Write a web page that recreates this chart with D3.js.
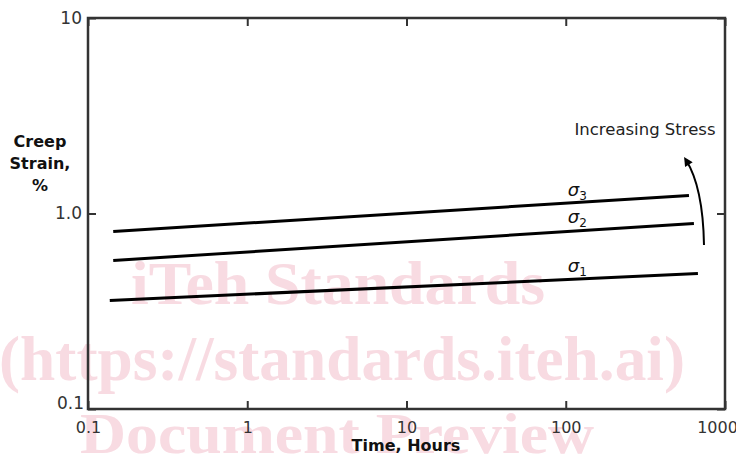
<!DOCTYPE html>
<html>
<head>
<meta charset="utf-8">
<script src="https://cdn.jsdelivr.net/npm/d3@7"></script>
<style>
  body { margin: 0; background: #fff; }
  svg { font-family: "DejaVu Sans", Verdana, sans-serif; }
</style>
</head>
<body>
<svg id="chart" width="736" height="458"></svg>
<script>
// creep curves (time in hours, strain in %)
var sigma1Time = [0.137, 676],
  sigma1Strain = [0.359, 0.493],
  sigma2Time = [0.144, 638],
  sigma2Strain = [0.575, 0.889],
  sigma3Time = [0.144, 594],
  sigma3Strain = [0.809, 1.236];
var seriesNames = ["1", "2", "3"];
var labelTime = [103, 103, 103];
var labelStrain = [0.50, 0.89, 1.236];
var xTicks = [0.1, 1, 10, 100, 1000],
  xTickLabels = ["0.1", "1", "10", "100", "1000"];
var yTicks = [0.1, 1, 10],
  yTickLabels = ["0.1", "1.0", "10"];

var svg = d3.select("#chart"),
  mLeft = 88, mRight = 725, mTop = 18, mBottom = 409;

var x = d3.scaleLog().domain([0.1, 1000]).range([mLeft, mRight]),
  y = d3.scaleLog().domain([0.1, 10]).range([mBottom, mTop]);

// watermark behind everything
var wm = svg.append("g")
  .attr("fill", "#f8dbe2")
  .attr("font-family", "'Liberation Serif', 'DejaVu Serif', serif")
  .attr("font-weight", "bold")
  .attr("text-anchor", "middle");
wm.append("text").attr("x", 338).attr("y", 304).attr("font-size", 62)
  .attr("textLength", 414).attr("lengthAdjust", "spacingAndGlyphs").text("iTeh Standards");
wm.append("text").attr("x", 342).attr("y", 380).attr("font-size", 64)
  .attr("textLength", 686).attr("lengthAdjust", "spacingAndGlyphs").text("(https://standards.iteh.ai)");
wm.append("text").attr("x", 337).attr("y", 453).attr("font-size", 58)
  .attr("textLength", 514).attr("lengthAdjust", "spacingAndGlyphs").text("Document Preview");

// axes: ticks inside the frame on all sides
var axisColor = "#333";
function styleAxis(g) {
  g.attr("font-family", null);
  g.select(".domain").remove();
  g.selectAll(".tick line").attr("stroke", axisColor).attr("stroke-width", 2);
  g.selectAll(".tick text").attr("fill", axisColor)
    .style("font-size", "16px");
}

svg.append("g")
  .attr("transform", "translate(0," + mBottom + ")")
  .call(d3.axisBottom(x).tickValues(xTicks)
    .tickFormat(function (d, i) { return xTickLabels[i]; })
    .tickSizeInner(-8).tickPadding(10))
  .call(styleAxis)
  .call(function (g) {
    g.selectAll(".tick text").attr("dy", "0.85em");
    g.selectAll(".tick").filter(function (d) { return d === 1000; })
      .select("text").attr("dx", -8);
  });

svg.append("g")
  .attr("transform", "translate(0," + mTop + ")")
  .call(d3.axisTop(x).tickValues(xTicks).tickFormat("").tickSizeInner(-8))
  .call(styleAxis);

svg.append("g")
  .attr("transform", "translate(" + mLeft + ",0)")
  .call(d3.axisLeft(y).tickValues(yTicks)
    .tickFormat(function (d, i) { return yTickLabels[i]; })
    .tickSizeInner(-8).tickPadding(6))
  .call(styleAxis)
  .call(function (g) {
    g.selectAll(".tick text").style("font-size", "17px");
    g.selectAll(".tick").filter(function (d) { return d === 0.1; })
      .select("text").attr("dy", "-0.05em").attr("x", -4);
  });

svg.append("g")
  .attr("transform", "translate(" + mRight + ",0)")
  .call(d3.axisRight(y).tickValues(yTicks).tickFormat("").tickSizeInner(-8))
  .call(styleAxis);

// frame
svg.append("rect")
  .attr("x", mLeft).attr("y", mTop)
  .attr("width", mRight - mLeft).attr("height", mBottom - mTop)
  .attr("fill", "none").attr("stroke", axisColor).attr("stroke-width", 2.5);

// creep lines
var series = [
  { t: sigma1Time, s: sigma1Strain },
  { t: sigma2Time, s: sigma2Strain },
  { t: sigma3Time, s: sigma3Strain }
];
var line = d3.line()
  .x(function (d) { return x(d[0]); })
  .y(function (d) { return y(d[1]); });

series.forEach(function (sr) {
  svg.append("path")
    .datum(d3.zip(sr.t, sr.s))
    .attr("d", line)
    .attr("fill", "none")
    .attr("stroke", "#000")
    .attr("stroke-width", 3);
});

// sigma labels
seriesNames.forEach(function (n, i) {
  var t = svg.append("text")
    .attr("x", x(labelTime[i])).attr("y", y(labelStrain[i]))
    .attr("text-anchor", "start")
    .style("font-size", "18px")
    .style("font-style", "italic")
    .attr("fill", "#111");
  t.append("tspan").text("\u03c3");
  t.append("tspan").attr("dy", 4).style("font-size", "12px")
    .style("font-style", "normal").text(n);
});

// arrow for increasing stress
var defs = svg.append("defs");
defs.append("marker")
  .attr("id", "arrowHead")
  .attr("viewBox", "0 0 10 10")
  .attr("refX", 6).attr("refY", 5)
  .attr("markerWidth", 5.5).attr("markerHeight", 4.5)
  .attr("markerUnits", "strokeWidth")
  .attr("orient", "auto")
  .append("path").attr("d", "M0,0 L10,5 L0,10 z").attr("fill", "#000");

svg.append("path")
  .attr("d", "M704,245 Q703,187 686,160")
  .attr("fill", "none").attr("stroke", "#000").attr("stroke-width", 2)
  .attr("marker-end", "url(#arrowHead)");

svg.append("text")
  .attr("x", 645).attr("y", 135)
  .attr("text-anchor", "middle")
  .style("font-size", "16px")
  .attr("textLength", 141).attr("lengthAdjust", "spacingAndGlyphs")
  .attr("fill", "#222")
  .text("Increasing Stress");

// axis titles
var yTitle = svg.append("text")
  .attr("text-anchor", "middle")
  .style("font-size", "16px").style("font-weight", "bold")
  .attr("fill", "#111");
["Creep", "Strain,", "%"].forEach(function (s, i) {
  yTitle.append("tspan").attr("x", 40).attr("y", 147 + i * 22).text(s);
});

svg.append("text")
  .attr("x", 406).attr("y", 451)
  .attr("text-anchor", "middle")
  .style("font-size", "16px").style("font-weight", "bold")
  .attr("fill", "#111")
  .text("Time, Hours");
</script>
</body>
</html>
